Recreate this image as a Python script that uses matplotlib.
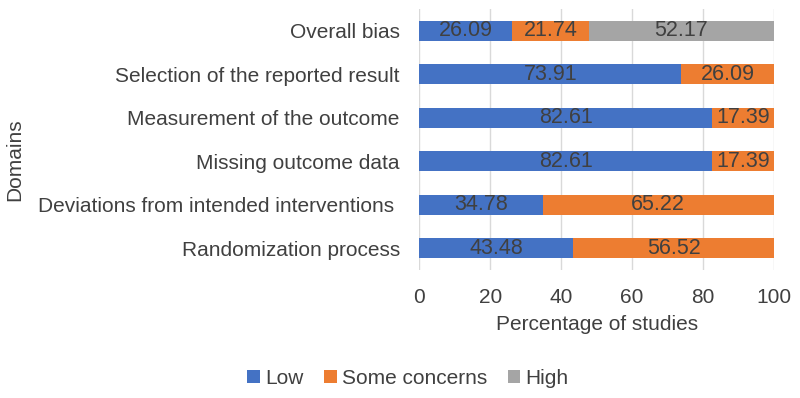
import numpy as np
import matplotlib.pyplot as plt

plt.rcParams['font.family'] = ['Liberation Sans', 'DejaVu Sans']

domains = ['Randomization process',
           'Deviations from intended interventions ',
           'Missing outcome data',
           'Measurement of the outcome',
           'Selection of the reported result',
           'Overall bias']
low = [43.48, 34.78, 82.61, 82.61, 73.91, 26.09]
some = [56.52, 65.22, 17.39, 17.39, 26.09, 21.74]
high = [0, 0, 0, 0, 0, 52.17]

colors = {'Low': '#4472C4', 'Some concerns': '#ED7D31', 'High': '#A5A5A5'}
txt = '#404040'
fs = 15

fig = plt.figure(figsize=(8, 3.98), dpi=100)
ax = fig.add_axes([0.524, 0.322, 0.4435, 0.655])

y = np.arange(len(domains))
left = np.zeros(len(domains))
for name, vals in [('Low', low), ('Some concerns', some), ('High', high)]:
    vals = np.array(vals)
    bars = ax.barh(y, vals, left=left, height=0.46, color=colors[name],
                   label=name, zorder=3)
    for b, v in zip(bars, vals):
        if v > 0:
            ax.text(b.get_x() + b.get_width() / 2, b.get_y() + b.get_height() / 2,
                    f'{v:.2f}', ha='center', va='center', fontsize=fs + 0.5,
                    color=txt, zorder=4)
    left += vals

ax.set_xlim(0, 100)
ax.set_ylim(-0.5, len(domains) - 0.5)
ax.set_xticks([0, 20, 40, 60, 80, 100])
ax.set_yticks(y)
ax.set_yticklabels(domains)
ax.tick_params(axis='both', length=0, labelsize=fs, labelcolor=txt)
ax.tick_params(axis='y', pad=14)
ax.tick_params(axis='x', pad=13)
ax.grid(True, axis='x', color='#D9D9D9', linewidth=1, zorder=0)
for s in ax.spines.values():
    s.set_visible(False)

ax.set_xlabel('Percentage of studies', fontsize=fs, color=txt, labelpad=6)
fig.text(0.018, 0.598, 'Domains', rotation=90, ha='center', va='center',
         fontsize=fs, color=txt)

fig.legend(loc='center', bbox_to_anchor=(0.51, 0.05), ncol=3, frameon=False,
           fontsize=fs, labelcolor=txt, handlelength=0.6, handleheight=0.6,
           handletextpad=0.25, columnspacing=1.0)

fig.savefig('out.png', dpi=100)
